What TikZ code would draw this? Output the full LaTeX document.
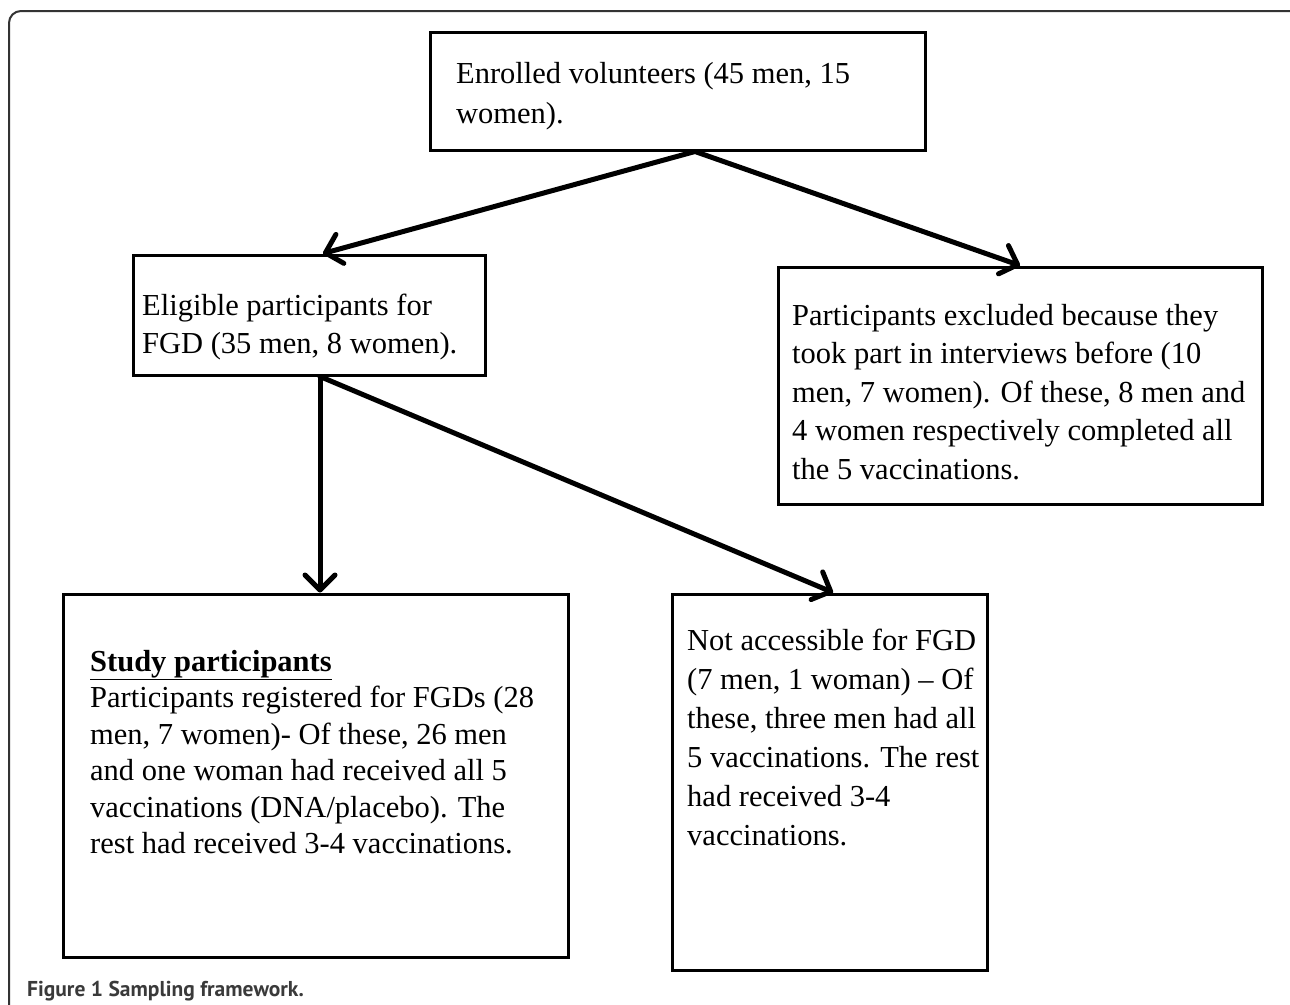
\documentclass[tikz,border=0pt]{standalone}
\usepackage{fontspec}
\setmainfont{Liberation Serif}
\newfontfamily\capfont{PT Sans}
\usetikzlibrary{arrows.meta}
\definecolor{framegray}{HTML}{333333}
\definecolor{capgray}{HTML}{3A3A3A}
\newcommand\mylines[1]{\vtop{\halign{##\hfil\cr#1\crcr}}}
\begin{document}
\begin{tikzpicture}[x=1pt,y=-1pt,
  box/.style={draw, line width=3pt, inner sep=0pt},
  txt/.style={anchor=base west, inner sep=0pt},
  arr/.style={line width=5pt, line cap=round, -{Straight Barb[length=15pt,width=30pt,round]}},
  framestyle/.style={draw=framegray, line width=2pt, rounded corners=12pt}]
\useasboundingbox (0,0) rectangle (1290,1004);
\fill[white] (0,0) rectangle (1290,1004);
\draw[framestyle] (9,1012) -- (9,11) -- (1302,11) -- (1302,1012);

% boxes
\node[box, minimum width=495pt, minimum height=118pt] (top) at (677.5,91) {};
\node[box, minimum width=352pt, minimum height=120pt] (elig) at (309,315) {};
\node[box, minimum width=484pt, minimum height=237pt] (excl) at (1020,385.5) {};
\node[box, minimum width=505pt, minimum height=363pt] (study) at (315.5,775.5) {};
\node[box, minimum width=315pt, minimum height=376pt] (notacc) at (829.5,782) {};

% texts
\node[txt, font=\fontsize{30.5}{40}\selectfont] (ttop) at (456,83)
  {\mylines{Enrolled volunteers (45 men, 15\cr women).}};
\node[txt, font=\fontsize{30.5}{38}\selectfont] (telig) at (142,315)
  {\mylines{Eligible participants for\cr FGD (35 men, 8 women).}};
\node[txt, font=\fontsize{30.5}{38.5}\selectfont] (texcl) at (792,325)
  {\mylines{Participants excluded because they\cr took part in interviews before (10\cr men, 7 women). Of these, 8 men and\cr 4 women respectively completed all\cr the 5 vaccinations.}};
\node[txt, font=\fontsize{30.5}{36.5}\selectfont] (tstudy) at (90,671)
  {\mylines{\underline{\textbf{Study participants}}\cr Participants registered for FGDs (28\cr men, 7 women)- Of these, 26 men\cr and one woman had received all 5\cr vaccinations (DNA/placebo). The\cr rest had received 3-4 vaccinations.}};
\node[txt, font=\fontsize{30.5}{39}\selectfont] (tnotacc) at (687,650)
  {\mylines{Not accessible for FGD\cr (7 men, 1 woman) -- Of\cr these, three men had all\cr 5 vaccinations. The rest\cr had received 3-4\cr vaccinations.}};

% caption
\node[txt, font=\capfont\bfseries\fontsize{21.5}{25}\selectfont, text=capgray] (cap) at (27,996) {Figure 1 Sampling framework.};

% connector end points on the boxes
\coordinate (apex) at (top.south -| 695,0);
\coordinate (tipE) at (elig.north -| 323,0);
\coordinate (tipX) at (excl.north -| 1020,0);
\coordinate (eB) at (elig.south -| 320,0);
\coordinate (tipS) at (study.north -| 320,0);
\coordinate (tipN) at (notacc.north -| 833,0);

\draw[arr] (apex) -- (tipE);
\draw[arr] (apex) -- (tipX);
\draw[arr] (eB) -- (tipS);
\draw[arr] (eB) -- (tipN);
\draw[line width=3pt] ([yshift=-2pt]study.north -| 288,0) -- ([yshift=-2pt]study.north -| 353,0);
\end{tikzpicture}
\end{document}
